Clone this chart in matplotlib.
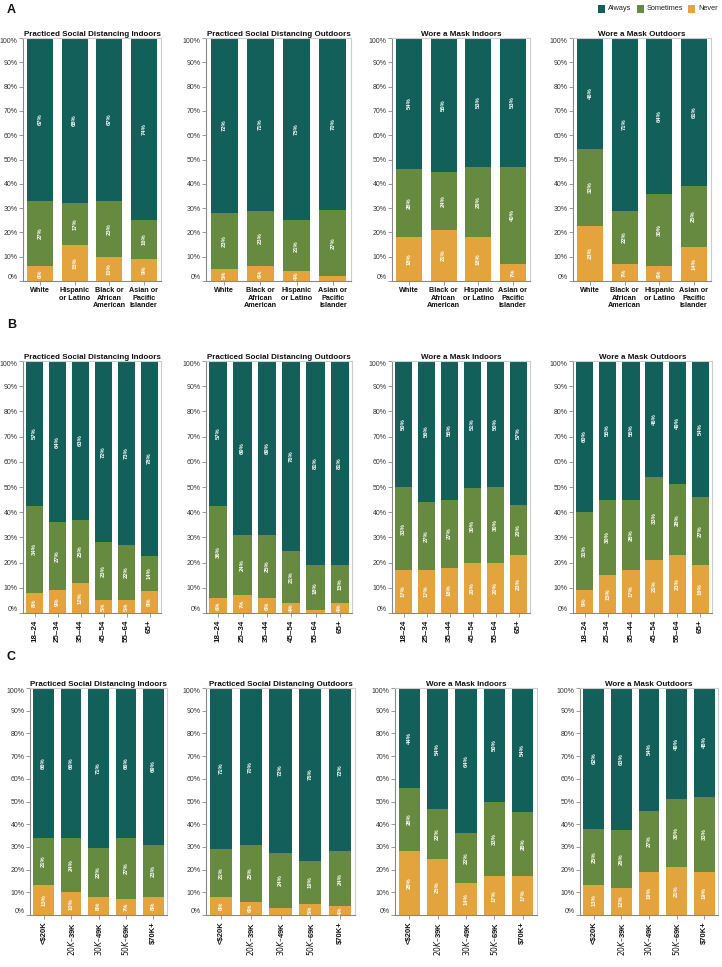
import matplotlib
matplotlib.use("Agg")
import matplotlib.pyplot as plt
from matplotlib.patches import Rectangle
import numpy as np

plt.rcParams['font.family'] = ['Liberation Sans', 'DejaVu Sans']

W, H = 722, 967

# ---------------- categories ----------------
race_order_1 = ["White", "Hispanic\nor Latino", "Black or\nAfrican\nAmerican", "Asian or\nPacific\nIslander"]
race_order_2 = ["White", "Black or\nAfrican\nAmerican", "Hispanic\nor Latino", "Asian or\nPacific\nIslander"]
age_groups = ["18–24", "25–34", "35–44", "45–54", "55–64", "65+"]
income_groups = ["<$20K", "$20K –$39K", "$30K –$49K", "$50K –$69K", "$70K+"]

title_sdi = "Practiced Social Distancing Indoors"
title_sdo = "Practiced Social Distancing Outdoors"
title_mi = "Wore a Mask Indoors"
title_mo = "Wore a Mask Outdoors"

# ---------------- Row A: race/ethnicity ----------------
a_sdi_never = [6, 15, 10, 9]
a_sdi_sometimes = [27, 17, 23, 16]
a_sdi_always = [67, 68, 67, 74]

a_sdo_never = [5, 6, 4, 2]
a_sdo_sometimes = [23, 23, 21, 27]
a_sdo_always = [72, 71, 75, 70]

a_mi_never = [18, 21, 18, 7]
a_mi_sometimes = [28, 24, 29, 40]
a_mi_always = [54, 55, 53, 53]

a_mo_never = [23, 7, 6, 14]
a_mo_sometimes = [32, 22, 30, 25]
a_mo_always = [46, 71, 64, 61]

# ---------------- Row B: age ----------------
b_sdi_never = [8, 9, 12, 5, 5, 9]
b_sdi_sometimes = [34, 27, 25, 23, 22, 14]
b_sdi_always = [57, 64, 63, 72, 73, 78]

b_sdo_never = [6, 7, 6, 4, 1, 4]
b_sdo_sometimes = [36, 24, 25, 21, 18, 15]
b_sdo_always = [57, 69, 69, 76, 81, 81]

b_mi_never = [17, 17, 18, 20, 20, 23]
b_mi_sometimes = [33, 27, 27, 30, 30, 20]
b_mi_always = [50, 56, 55, 51, 50, 57]

b_mo_never = [9, 15, 17, 21, 23, 19]
b_mo_sometimes = [31, 30, 28, 33, 28, 27]
b_mo_always = [60, 55, 55, 46, 49, 54]

# ---------------- Row C: income ----------------
c_sdi_never = [13, 10, 8, 7, 8]
c_sdi_sometimes = [21, 24, 22, 27, 23]
c_sdi_always = [66, 66, 71, 66, 69]

c_sdo_never = [8, 6, 3, 5, 4]
c_sdo_sometimes = [21, 25, 24, 19, 24]
c_sdo_always = [71, 70, 72, 76, 72]

c_mi_never = [28, 25, 14, 17, 17]
c_mi_sometimes = [28, 22, 22, 33, 28]
c_mi_always = [44, 54, 64, 50, 54]

c_mo_never = [13, 12, 19, 21, 19]
c_mo_sometimes = [25, 26, 27, 30, 33]
c_mo_always = [62, 63, 54, 49, 48]

legend_labels = ["Always", "Sometimes", "Never"]

C_ALW = "#135f5a"
C_SOME = "#658a40"
C_NEVER = "#e3a43e"

fig = plt.figure(figsize=(W / 100, H / 100), dpi=100)
fig.patch.set_facecolor("white")


def px_axes(x0, x1, y0, y1):
    return fig.add_axes([x0 / W, 1 - y1 / H, (x1 - x0) / W, (y1 - y0) / H])


def draw(ax, cats, never, some, always, title, rot, xfs):
    n = len(cats)
    x = np.arange(n)
    nv = np.array(never, float)
    sm = np.array(some, float)
    al = np.array(always, float)
    tot = nv + sm + al
    nvn, smn, aln = nv / tot * 100, sm / tot * 100, al / tot * 100
    w = 0.75
    ax.bar(x, nvn, w, color=C_NEVER, linewidth=0)
    ax.bar(x, smn, w, bottom=nvn, color=C_SOME, linewidth=0)
    ax.bar(x, aln, w, bottom=nvn + smn, color=C_ALW, linewidth=0)
    for i in range(n):
        segs = [(never[i], 0, nvn[i]), (some[i], nvn[i], smn[i]), (always[i], nvn[i] + smn[i], aln[i])]
        for v, b, h in segs:
            if v >= 4:
                ax.text(x[i], b + h / 2, f"{v}%", rotation=90, ha='center', va='center',
                        color='white', fontsize=4.2, fontweight='bold')
    ax.set_xlim(-0.5, n - 0.5)
    ax.set_ylim(0, 100)
    ax.set_yticks(np.arange(0, 101, 10))
    ax.set_yticklabels([f"{v}%" for v in range(0, 101, 10)])
    ax.set_xticks(x)
    if rot:
        ax.set_xticklabels(cats, rotation=90, fontsize=xfs, fontweight='bold', color='#111')
    else:
        ax.set_xticklabels(cats, fontsize=xfs, fontweight='bold', color='#111', linespacing=1.05)
    ax.tick_params(axis='y', length=3, width=0.6, color='#888', labelsize=5, labelcolor='#333', pad=1)
    ax.tick_params(axis='x', length=3, width=0.6, color='#888', pad=1.5)
    yt = ax.yaxis.get_major_ticks()
    yt[0].label1.set_va('bottom')
    yt[-1].label1.set_va('top')
    for s in ['top', 'right']:
        ax.spines[s].set_color('#cccccc')
        ax.spines[s].set_linewidth(0.8)
    for s in ['left', 'bottom']:
        ax.spines[s].set_color('#888888')
        ax.spines[s].set_linewidth(0.8)
    ax.set_title(title, fontsize=5.8, fontweight='bold', pad=1.5, color='#111')


panels = [
    ((23, 161, 38, 281), race_order_1, a_sdi_never, a_sdi_sometimes, a_sdi_always, title_sdi, False, 5.2),
    ((206, 351, 38, 281), race_order_2, a_sdo_never, a_sdo_sometimes, a_sdo_always, title_sdo, False, 5.2),
    ((392, 530, 38, 281), race_order_2, a_mi_never, a_mi_sometimes, a_mi_always, title_mi, False, 5.2),
    ((573, 711, 38, 281), race_order_2, a_mo_never, a_mo_sometimes, a_mo_always, title_mo, False, 5.2),
    ((23, 161, 361, 613), age_groups, b_sdi_never, b_sdi_sometimes, b_sdi_always, title_sdi, True, 5.8),
    ((206, 352, 361, 613), age_groups, b_sdo_never, b_sdo_sometimes, b_sdo_always, title_sdo, True, 5.8),
    ((392, 530, 361, 613), age_groups, b_mi_never, b_mi_sometimes, b_mi_always, title_mi, True, 5.8),
    ((573, 712, 361, 613), age_groups, b_mo_never, b_mo_sometimes, b_mo_always, title_mo, True, 5.8),
    ((30, 167, 688, 915), income_groups, c_sdi_never, c_sdi_sometimes, c_sdi_always, title_sdi, True, 5.5),
    ((206, 355, 688, 915), income_groups, c_sdo_never, c_sdo_sometimes, c_sdo_always, title_sdo, True, 5.5),
    ((395, 537, 688, 915), income_groups, c_mi_never, c_mi_sometimes, c_mi_always, title_mi, True, 5.5),
    ((580, 718, 688, 915), income_groups, c_mo_never, c_mo_sometimes, c_mo_always, title_mo, True, 5.5),
]

for box, cats, nv, sm, al, title, rot, xfs in panels:
    ax = px_axes(*box)
    draw(ax, cats, nv, sm, al, title, rot, xfs)

# panel letters
for letter, yy in [("A", 10), ("B", 325), ("C", 657)]:
    fig.text(7 / W, 1 - yy / H, letter, fontsize=9, fontweight='bold', ha='left', va='center', color='#111')

# legend
leg_x = [598, 637, 688]
leg_colors = [C_ALW, C_SOME, C_NEVER]
for lx, lab, col in zip(leg_x, legend_labels, leg_colors):
    fig.patches.append(Rectangle((lx / W, 1 - 12.5 / H), 7 / W, 7 / H, transform=fig.transFigure,
                                 facecolor=col, edgecolor='none'))
    fig.text((lx + 10) / W, 1 - 9 / H, lab, fontsize=5.3, ha='left', va='center', color='#222')

fig.savefig("out.png", dpi=100, facecolor="white")
